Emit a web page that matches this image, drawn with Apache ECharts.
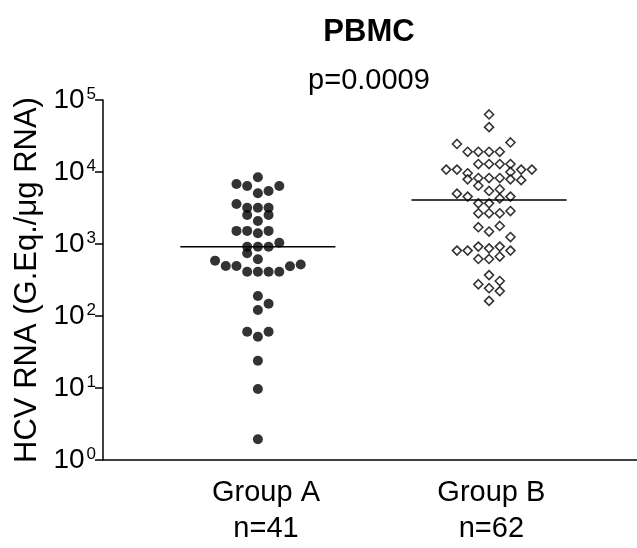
<!DOCTYPE html>
<html>
<head>
<meta charset="utf-8">
<script src="https://cdn.jsdelivr.net/npm/echarts@6/dist/echarts.min.js"></script>
<style>
  html, body { margin: 0; padding: 0; background: #fff; }
  #chart { width: 637px; height: 548px; }
</style>
</head>
<body>
<div id="chart"></div>
<script>
// groups and their labels
var groups = [1, 2];
var groupNames = ['Group A', 'Group B'];
var groupN = ['n=41', 'n=62'];
var labelPos = [1.035, 2.01];
var medians = [918, 4080];

// Group A: column offset (in dot widths) and value
var colA = [0, -2, -1, 2, 1, 0,
    -2, -1, 0, 1,
    -1, 1, 0,
    -2, -1, 1, 0,
    2, -1, 0, 1,
    -1, 0, -4, -3, -2, 3, 4,
    -1, 0, 1, 2,
    0, 1, 0, -1, 1, 0, 0, 0, 0];
var valA = [8440, 6810, 6390, 6390, 5450, 5060,
    3590, 3190, 3190, 3190,
    2530, 2530, 2090,
    1520, 1520, 1520, 1410,
    1040, 918, 918, 918,
    743, 614, 587, 495, 495, 490, 519,
    412, 412, 412, 412,
    190, 148, 121, 60.5, 60.5, 51.6, 23.9, 9.7, 1.94];

// Group B
var colB = [0, 0, -3, 2,
    -2, -1, 0, 1,
    -1, 0, 1, 2,
    -4, -3, 3, 4,
    -2, 2,
    -1, 0, 1,
    -2, 2, 3,
    -1,
    1, 0, -3,
    -2, 2, 1,
    -1, 0,
    2, -1, 0, 1,
    1, -1, 0, 2,
    -1, 1, 0, -3, -2, 2,
    1, -1, 0,
    0, 1, -1, 0, 1, 0];
var valB = [63000, 42000, 24500, 25700,
    19100, 19100, 19100, 19100,
    12900, 12900, 12900, 12900,
    10800, 10800, 10800, 10800,
    9600, 10000,
    8250, 8250, 8250,
    7900, 7900, 7700,
    6450,
    5750, 5450, 5000,
    4550, 4550, 4300,
    3670, 3670,
    2870, 2670, 2670, 2670,
    1780, 1710, 1490, 1250,
    920, 920, 870, 810, 810, 810,
    670, 620, 620,
    370, 306, 276, 243, 222, 162];

var step = 0.0463;      // one dot width in x units
var halfLine = 0.3355;  // half length of the median line

function points(g, cols, vals) {
    var out = [];
    for (var i = 0; i < vals.length; i++) {
        out.push([g + cols[i] * step, vals[i]]);
    }
    return out;
}
function medianLine(i) {
    return [[groups[i] - halfLine, medians[i]], [groups[i] + halfLine, medians[i]]];
}

var font = 'Liberation Sans, Arial, sans-serif';
var chart = echarts.init(document.getElementById('chart'));
chart.setOption({
    animation: false,
    title: [
        {text: 'PBMC', left: 364, top: 12, textAlign: 'center',
         textStyle: {fontFamily: font, fontSize: 31, fontWeight: 'bold', color: '#000'}},
        {text: 'p=0.0009', left: 364, top: 61, textAlign: 'center',
         textStyle: {fontFamily: font, fontSize: 29, fontWeight: 'normal', color: '#000'}}
    ],
    grid: {left: 103, right: 0, top: 100, bottom: 88, outerBoundsMode: 'none'},
    xAxis: {
        type: 'value', min: 0.33, max: 2.64,
        splitLine: {show: false},
        axisTick: {show: false},
        axisLine: {lineStyle: {color: '#000', width: 1.5}},
        axisLabel: {
            customValues: labelPos,
            margin: 15,
            fontFamily: font, fontSize: 29, color: '#000', lineHeight: 36,
            formatter: function (v) {
                var i = labelPos.indexOf(v);
                return i < 0 ? '' : groupNames[i] + '\n' + groupN[i];
            }
        }
    },
    yAxis: {
        type: 'log', logBase: 10, min: 1, max: 100000,
        name: 'HCV RNA (G.Eq./μg RNA)',
        nameLocation: 'middle', nameRotate: 90, nameGap: 58,
        nameTextStyle: {fontFamily: font, fontSize: 31, color: '#000'},
        splitLine: {show: false},
        axisLine: {show: true, lineStyle: {color: '#000', width: 1.5}},
        axisTick: {show: true, length: 8, lineStyle: {color: '#000', width: 1.5}},
        axisLabel: {
            margin: 7,
            formatter: function (v) {
                return '{b|10}{s|' + Math.round(Math.log10(v)) + '}';
            },
            rich: {
                b: {fontFamily: font, fontSize: 28, lineHeight: 28, color: '#000'},
                s: {fontFamily: font, fontSize: 17, lineHeight: 14, color: '#000',
                    verticalAlign: 'top', padding: [0, 0, 0, 2]}
            }
        }
    },
    series: [
        {type: 'scatter', data: points(groups[0], colA, valA), symbol: 'circle', symbolSize: 10,
         itemStyle: {color: '#000'}},
        {type: 'scatter', data: points(groups[1], colB, valB), symbol: 'diamond', symbolSize: 9,
         itemStyle: {color: '#fff', borderColor: '#000', borderWidth: 1.6}},
        {type: 'line', data: medianLine(0), symbol: 'none', z: 3,
         lineStyle: {color: '#000', width: 1.5}},
        {type: 'line', data: medianLine(1), symbol: 'none', z: 3,
         lineStyle: {color: '#000', width: 1.5}}
    ]
});
</script>
</body>
</html>
